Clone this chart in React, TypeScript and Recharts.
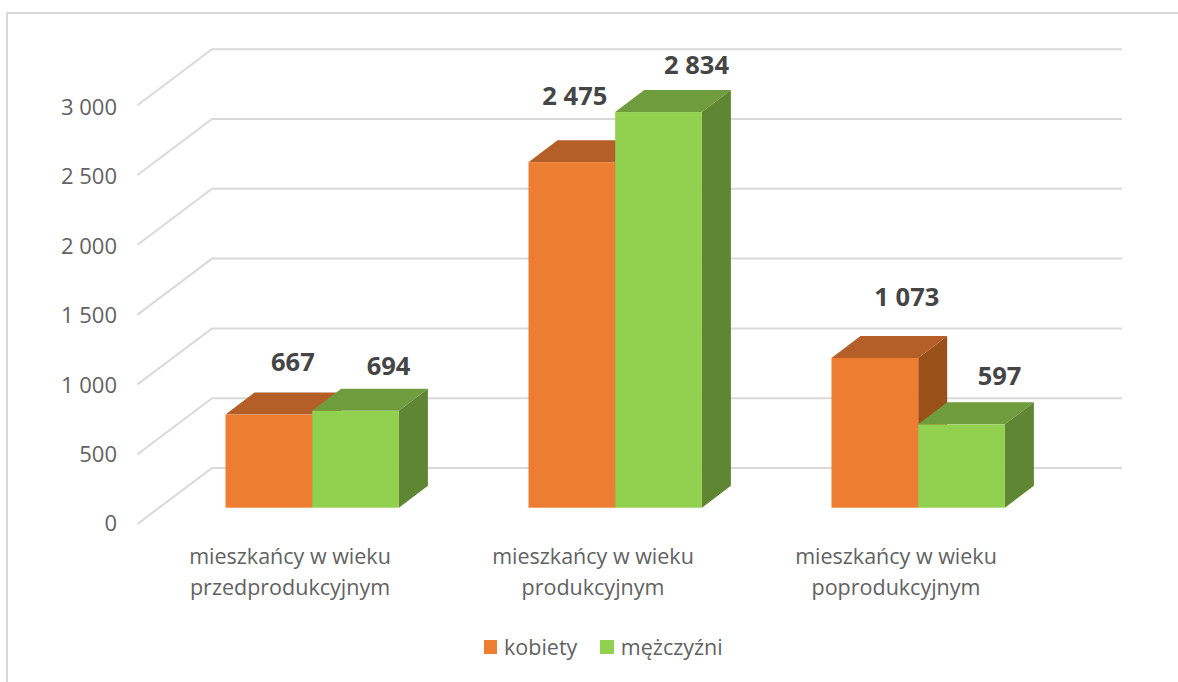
import React from 'react';
import { BarChart, Bar, XAxis, YAxis, CartesianGrid, LabelList, Legend } from 'recharts';

const CATEGORIES = [
  'mieszkańcy w wieku przedprodukcyjnym',
  'mieszkańcy w wieku produkcyjnym',
  'mieszkańcy w wieku poprodukcyjnym',
];
const KOBIETY = [667, 2475, 1073];
const MEZCZYZNI = [694, 2834, 597];
const Y_TICKS = [0, 500, 1000, 1500, 2000, 2500, 3000];

const data = CATEGORIES.map((name, i) => ({ name, kobiety: KOBIETY[i], mezczyzni: MEZCZYZNI[i] }));

const FONT = '"Open Sans", sans-serif';
const TEXT = '#626262';
const ORANGE = { front: '#ED7D31', top: '#B45F27', side: '#9A5019' };
const GREEN = { front: '#92D050', top: '#6F9D3D', side: '#5F8632' };
const DEPTH_X = 29;
const DEPTH_Y = 22;

// the labels were moved by hand in the original, so each one has its own nudge
const KOBIETY_NUDGE = [[24, -53.5], [3, -67], [32, -61.5]];
const MEZCZYZNI_NUDGE = [[33, -46], [38, -48.5], [38, -49]];

const formatValue = (v: number) => String(v).replace(/\B(?=(\d{3})+$)/g, ' ');

const makeBox = (c: typeof ORANGE) => (props: any) => {
  const { x, y, width, height } = props;
  const r = x + width;
  const b = y + height;
  return (
    <g>
      <polygon points={`${x},${y} ${x + DEPTH_X},${y - DEPTH_Y} ${r + DEPTH_X},${y - DEPTH_Y} ${r},${y}`} fill={c.top} />
      <polygon points={`${r},${y} ${r + DEPTH_X},${y - DEPTH_Y} ${r + DEPTH_X},${b - DEPTH_Y} ${r},${b}`} fill={c.side} />
      <rect x={x} y={y} width={width} height={height} fill={c.front} />
    </g>
  );
};

const WallLine = (props: any) => {
  const { x1, x2, y1 } = props;
  const backY = y1 - 39.7;
  return (
    <polyline
      key={props.key}
      points={`${x1 - 23},${backY + 56} ${x1 + 51.5},${backY} ${x2 + 52.5},${backY}`}
      fill="none"
      stroke="#D9D9D9"
      strokeWidth={2}
    />
  );
};

const makeLabel = (nudge: number[][]) => (props: any) => {
  const { x, y, width, value, index } = props;
  return (
    <text
      x={x + width / 2 + nudge[index][0]}
      y={y + nudge[index][1]}
      textAnchor="middle"
      dominantBaseline="central"
      fontFamily={FONT}
      fontSize={25.5}
      fontWeight={700}
      fill="#454545"
    >
      {formatValue(value)}
    </text>
  );
};

const CategoryTick = (props: any) => {
  const { x, y, payload } = props;
  const split = payload.value.indexOf('wieku') + 5;
  return (
    <text x={x - 22} y={y} textAnchor="middle" fontFamily={FONT} fontSize={21.5} fill={TEXT}>
      <tspan x={x - 22} dy={48}>{payload.value.slice(0, split)}</tspan>
      <tspan x={x - 22} dy={31}>{payload.value.slice(split + 1)}</tspan>
    </text>
  );
};

// the tick labels sit on a slightly tighter spacing than the bars
const ValueTick = (props: any) => {
  const { y, payload } = props;
  return (
    <text x={117} y={y + 14.5 + payload.value * 0.0009} textAnchor="end" dominantBaseline="central" fontFamily={FONT} fontSize={22} fill={TEXT}>
      {formatValue(payload.value)}
    </text>
  );
};

const LegendRow = ({ payload }: any) => (
  <div style={{ display: 'flex', fontFamily: FONT, fontSize: 21.5, color: TEXT, lineHeight: '26px' }}>
    {payload.map((item: any) => (
      <div key={item.value} style={{ display: 'flex', alignItems: 'center', marginRight: 23 }}>
        <span style={{ width: 13.5, height: 13.5, background: item.color, marginRight: 7 }} />
        {item.value}
      </div>
    ))}
  </div>
);

export default function App() {
  return (
    <div style={{ position: 'absolute', left: 0, top: 0, width: 1178, height: 682, background: '#fff', overflow: 'hidden' }}>
      <div style={{ position: 'absolute', left: 6, top: 12, right: 0, bottom: 0, borderTop: '2px solid #D9D9D9', borderLeft: '2px solid #D9D9D9' }} />
      <BarChart
        width={1178}
        height={682}
        data={data}
        barSize={86.7}
        barGap={0}
        margin={{ top: 88.9, right: 108.5, bottom: 114.3, left: 60.5 }}
        style={{ position: 'absolute', left: 0, top: 0 }}
      >
        <CartesianGrid vertical={false} horizontal={WallLine} />
        <XAxis dataKey="name" height={60} axisLine={false} tickLine={false} interval={0} tick={CategoryTick} />
        <YAxis width={100} domain={[0, 3000]} ticks={Y_TICKS} axisLine={false} tickLine={false} tick={ValueTick} />
        <Legend
          layout="horizontal"
          verticalAlign="middle"
          align="center"
          content={LegendRow}
          wrapperStyle={{ left: 483.5, top: 634, width: 320 }}
        />
        <Bar dataKey="kobiety" name="kobiety" fill={ORANGE.front} shape={makeBox(ORANGE)} isAnimationActive={false}>
          <LabelList dataKey="kobiety" content={makeLabel(KOBIETY_NUDGE)} />
        </Bar>
        <Bar dataKey="mezczyzni" name="mężczyźni" fill={GREEN.front} shape={makeBox(GREEN)} isAnimationActive={false}>
          <LabelList dataKey="mezczyzni" content={makeLabel(MEZCZYZNI_NUDGE)} />
        </Bar>
      </BarChart>
    </div>
  );
}
